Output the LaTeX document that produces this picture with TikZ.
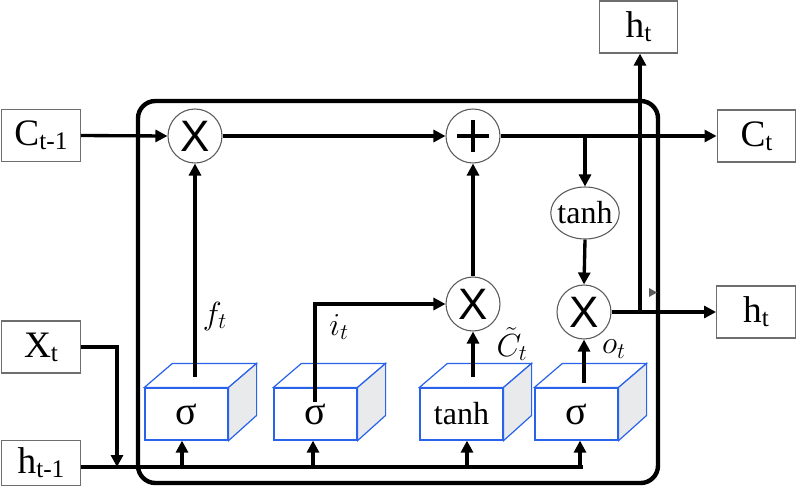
\documentclass[tikz,border=0pt]{standalone}
\usepackage{fix-cm}
\usepackage{fontspec}
\setmainfont{Liberation Serif}
\newfontfamily\opfont{Liberation Sans}
\usetikzlibrary{arrows.meta,shapes.geometric}

\newcommand{\subtx}[2]{#1\raisebox{-3pt}{\fontsize{19}{19}\selectfont #2}}
\newcommand{\cubefaces}[1]{%
  \draw[cubeline, fill=white] (#1.north west) -- ++(28,-24) -- ([shift={(28,-24)}]#1.north east) -- (#1.north east) -- cycle;
  \draw[cubeline] (#1.north east) -- ++(28,-24) -- ++(0,52) -- (#1.south east) -- cycle;}

\tikzset{every picture/.style={line width=0.75pt}}
\tikzset{
  txtbox/.style={draw={rgb, 255:red, 110; green, 110; blue, 110}, line width=0.9pt, fill=white, minimum width=59pt, minimum height=39pt, inner sep=0pt, font=\fontsize{28}{30}\selectfont},
  opnode/.style={circle, draw={rgb, 255:red, 90; green, 90; blue, 90}, line width=0.8pt, fill=white, minimum size=40.5pt, inner sep=0pt, font=\opfont\fontsize{33}{33}\selectfont},
  gatebox/.style={draw={rgb, 255:red, 41; green, 98; blue, 235}, line width=0.9pt, fill=white, minimum width=62.25pt, minimum height=39pt, inner sep=0pt},
  cubeline/.style={draw={rgb, 255:red, 41; green, 98; blue, 235}, line width=0.9pt, fill={rgb, 255:red, 232; green, 234; blue, 236}},
  wire/.style={line width=2.5pt},
  arr/.style={wire, -{Triangle[length=9pt,width=9pt]}},
  gatelbl/.style={inner sep=0pt, font=\fontsize{24}{24}\selectfont},
}

\begin{document}
\begin{tikzpicture}[x=0.75pt,y=0.75pt,yscale=-1,xscale=1]
\useasboundingbox (0,0) rectangle (799,497);

%Shape: Rounded cell frame
\draw [line width=3.3pt, rounded corners=13pt] (138,101) rectangle (658,483);

% Text Node: inputs and outputs
\node [txtbox] (cprev) at (41,135.5) {\subtx{C}{t-1}};
\node [txtbox] (xt) at (41,347) {\subtx{X}{t}};
\node [txtbox, minimum height=34pt] (hprev) at (41,463) {\subtx{h}{t-1}};
\node [txtbox] (ct) at (756.5,136) {\subtx{C}{t}};
\node [txtbox] (ht) at (756,312) {\subtx{h}{t}};
\node [txtbox] (htop) at (638.5,27) {\subtx{h}{t}};

% Pointwise operations
\node [opnode] (mf) at (195,136) {X};
\node [opnode] (add) at (473,136) {};
\draw [line width=3.7pt] ([xshift=-12pt]add.center) -- ([xshift=12pt]add.center) ([yshift=-12pt]add.center) -- ([yshift=12pt]add.center);
\node [opnode] (mi) at (473,304) {X};
\node [opnode] (mo) at (584,312) {X};
\node [ellipse, draw={rgb, 255:red, 90; green, 90; blue, 90}, line width=0.8pt, fill=white, minimum height=39pt, inner xsep=-2.5pt, inner ysep=0pt, font=\fontsize{24}{24}\selectfont] (tc) at (585,213) {tanh};

%Shape: Gate boxes
\node [gatebox, font=\fontsize{30}{30}\selectfont] (g1) at (186.5,414) {σ};
\node [gatebox, font=\fontsize{30}{30}\selectfont] (g2) at (315.5,414) {σ};
\node [gatebox, font=\fontsize{24}{24}\selectfont] (g3) at (461.5,414) {tanh};
\node [gatebox, font=\fontsize{30}{30}\selectfont] (g4) at (576.5,414) {σ};
\cubefaces{g1}
\cubefaces{g2}
\cubefaces{g3}
\cubefaces{g4}

% Free ends of wires
\coordinate (hend) at (583,467);
\coordinate (xjoin) at (117,467);
\coordinate (hi1) at (182,467);
\coordinate (hi2) at (313,467);
\coordinate (hi3) at (467,467);
\coordinate (hi4) at (580,467);
\coordinate (fo) at (195,377);
\coordinate (io) at (315,402);
\coordinate (co) at (473,377);
\coordinate (oo) at (584,383);
\coordinate (csplit) at (585,136);
\coordinate (hsplit) at (640,312);

% Cell state line
\draw [arr] (cprev.east) -- (mf.west);
\draw [arr] (mf.east) -- (add.west);
\draw [arr] (add.east) -- (ct.west);
\draw [arr] (csplit) -- (tc.north);
\draw [arr] (tc.south) -- (mo.north);

% Hidden state input line
\draw [wire] (hprev.east |- hend) -- (hend);
\draw [arr] (xt.east) -| (xjoin);
\draw [arr] (hi1) -- (hi1 |- g1.south);
\draw [arr] (hi2) -- (hi2 |- g2.south);
\draw [arr] (hi3) -- (hi3 |- g3.south);
\draw [arr] (hi4) -- (hi4 |- g4.south);

% Gate outputs
\draw [arr] (fo) -- (mf.south);
\draw [arr] (io) |- (mi.west);
\draw [arr] (co) -- (mi.south);
\draw [arr] (mi.north) -- (add.south);
\draw [arr] (oo) -- (mo.south);

% Output line
\draw [arr] (mo.east) -- (ht.west);
\draw [arr] (hsplit) -- (hsplit |- htop.south);
\fill [fill={rgb, 255:red, 90; green, 90; blue, 90}] (649,288) -- (657,292.5) -- (649,297) -- cycle;

% Text Node: gate labels
\node [gatelbl] (lf) at (215,316) {$f_t$};
\node [gatelbl] (li) at (339,327) {$i_t$};
\node [gatelbl] (lc) at (512,344) {$\tilde{C}_t$};
\node [gatelbl] (lo) at (614,349) {$o_t$};

\end{tikzpicture}
\end{document}
